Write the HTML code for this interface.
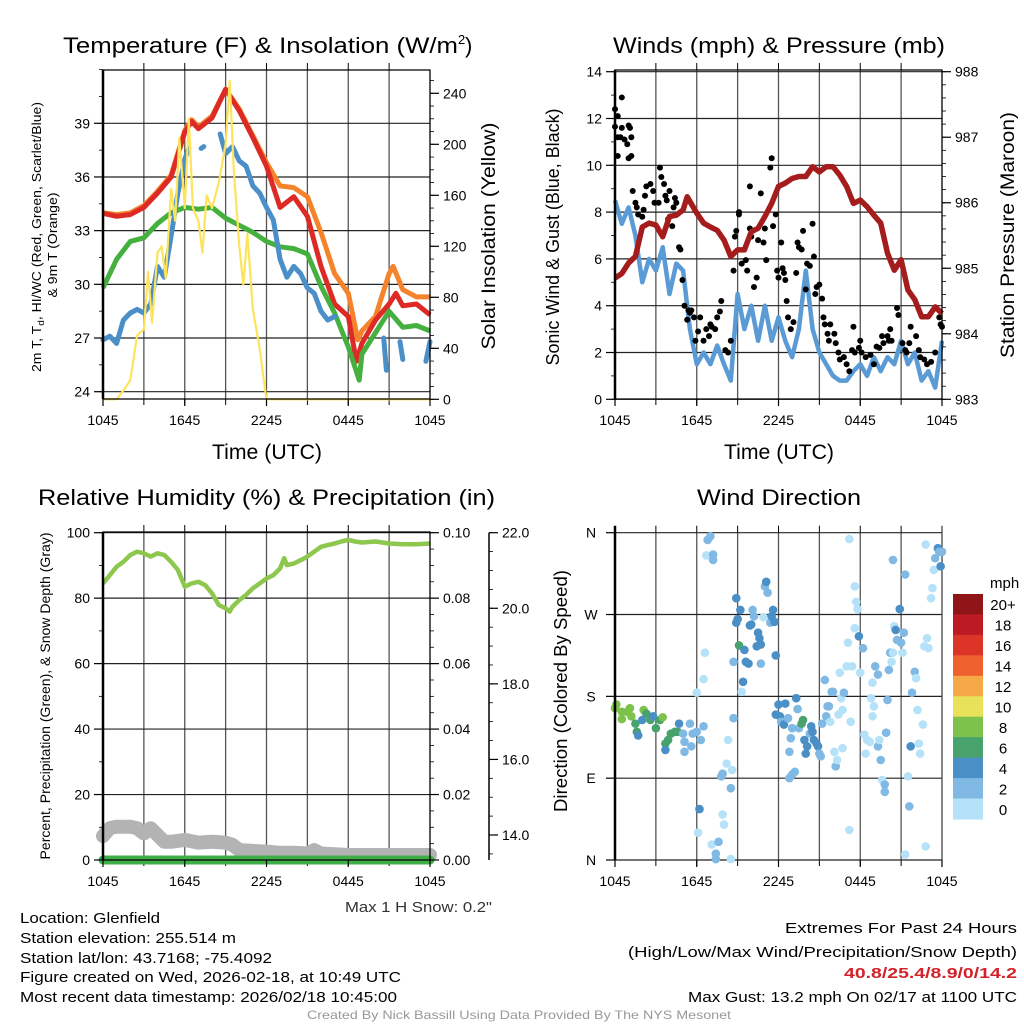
<!DOCTYPE html>
<html><head><meta charset="utf-8"><title>Mesonet Meteogram</title>
<style>
html,body{margin:0;padding:0;background:#fff;}
svg{display:block;font-family:"Liberation Sans",sans-serif;}
</style></head>
<body>
<svg id="fig" xmlns="http://www.w3.org/2000/svg" width="1024" height="1024" viewBox="0 0 1024 1024">
<rect x="0" y="0" width="1024" height="1024" fill="#fff"/>
<g id="p1"></g>
<g id="p2"></g>
<g id="p3"></g>
<g id="p4"></g>
<g id="txt">
<text x="63" y="53" font-size="22" textLength="395" lengthAdjust="spacingAndGlyphs">Temperature (F) &amp; Insolation (W/m</text>
<text x="458" y="44" font-size="13">2</text>
<text x="465" y="53" font-size="22">)</text>
<text x="613" y="53" font-size="22" textLength="332" lengthAdjust="spacingAndGlyphs">Winds (mph) &amp; Pressure (mb)</text>
<text x="38" y="505" font-size="22" textLength="457" lengthAdjust="spacingAndGlyphs">Relative Humidity (%) &amp; Precipitation (in)</text>
<text x="697" y="505" font-size="22" textLength="164" lengthAdjust="spacingAndGlyphs">Wind Direction</text>
<text x="345" y="912" font-size="15" fill="#333" textLength="147" lengthAdjust="spacingAndGlyphs">Max 1 H Snow: 0.2"</text>
<text x="20" y="923" font-size="15" textLength="140" lengthAdjust="spacingAndGlyphs">Location: Glenfield</text>
<text x="20" y="943" font-size="15" textLength="216" lengthAdjust="spacingAndGlyphs">Station elevation: 255.514 m</text>
<text x="20" y="963" font-size="15" textLength="252" lengthAdjust="spacingAndGlyphs">Station lat/lon: 43.7168; -75.4092</text>
<text x="20" y="982" font-size="15" textLength="381" lengthAdjust="spacingAndGlyphs">Figure created on Wed, 2026-02-18, at 10:49 UTC</text>
<text x="20" y="1002" font-size="15" textLength="377" lengthAdjust="spacingAndGlyphs">Most recent data timestamp: 2026/02/18 10:45:00</text>
<text x="785" y="933" font-size="15" textLength="232" lengthAdjust="spacingAndGlyphs">Extremes For Past 24 Hours</text>
<text x="628" y="957" font-size="15" textLength="389" lengthAdjust="spacingAndGlyphs">(High/Low/Max Wind/Precipitation/Snow Depth)</text>
<text x="844" y="978" font-size="15" font-weight="bold" fill="#d2232a" textLength="173" lengthAdjust="spacingAndGlyphs">40.8/25.4/8.9/0/14.2</text>
<text x="688" y="1002" font-size="15" textLength="329" lengthAdjust="spacingAndGlyphs">Max Gust: 13.2 mph On 02/17 at 1100 UTC</text>
<text x="307" y="1019" font-size="12" fill="#999" textLength="424" lengthAdjust="spacingAndGlyphs">Created By Nick Bassill Using Data Provided By The NYS Mesonet</text>
</g>
</svg>
<script>
// ---------- shared axis labels ----------
var timeTicks=[0,6,12,18,24];
var timeLabels=["1045","1645","2245","0445","1045"];
// ---------- panel 1 data ----------
var tempTicks=[24,27,30,33,36,39];
var insTicks=[0,40,80,120,160,200,240];
var hourT=[0,1,2,3,4,5,6,6.5,7,8,9,10,11,12,13,14,15,16,17,18,18.6,19,20,21,21.5,22,23,24];
var airT=[33.97,33.8,33.9,34.3,35.1,36.0,38.5,39.1,38.7,39.3,40.9,39.7,38.2,36.6,34.3,34.9,33.8,31.0,28.9,28.2,25.7,26.7,28.0,28.9,29.5,28.8,28.9,28.3];
var t9T=[0,1,2,3,4,5,6,6.5,7,8,9,10,11,12,13,14,15,16,17,18,18.7,19,20,21,21.3,22,23,24];
var t9m=[34.0,33.9,34.0,34.4,35.2,36.1,38.6,39.2,38.8,39.4,40.9,39.8,38.3,36.8,35.5,35.4,34.9,32.9,30.6,29.5,26.9,27.4,28.2,30.6,31.0,29.7,29.3,29.3];
var dewT=[0,1,2,3,4,5,6,7,8,9,10,11,12,13,14,15,16,17,18,18.8,19,20,21,22,23,24];
var dewV=[29.8,31.4,32.4,32.6,33.4,34.0,34.3,34.2,34.3,33.7,33.3,32.9,32.4,32.1,32.0,31.7,29.9,28.4,26.5,24.65,26.1,27.3,28.5,27.6,27.7,27.4];
var hiT=[0,0.5,1,1.5,2,2.5,3,3.5,4,4.5,5,5.5,6,6.3,null,7.2,7.4,null,8.6,9,9.5,10,10.5,11,11.5,12,12.5,13,13.5,14,14.5,15,15.5,16,16.5,17,null,20.6,20.8,null,21.8,22.0,null,23.7,24];
var hiV=[26.9,27.1,26.7,28.0,28.4,28.6,28.4,28.9,31.0,30.4,32.7,35.1,37.0,37.6,null,37.6,37.7,null,38.4,37.3,37.7,36.9,36.6,35.5,35.1,34.3,33.6,31.4,30.4,31.0,30.6,29.8,29.5,28.5,28.0,28.2,null,27.0,25.2,null,26.8,25.8,null,25.7,26.8];
var insT=[0,0.5,1,1.5,2,2.5,3,3.3,3.6,4,4.3,4.6,5,5.3,5.6,6,6.3,6.6,7,7.3,7.6,8,8.5,9,9.3,9.6,10,10.3,10.6,11,11.5,11.8,12,24];
var insV=[0,0,0,7,15,50,55,100,60,115,120,95,165,140,205,150,220,150,140,115,160,150,170,200,250,180,120,90,130,70,40,15,0,0];
// ---------- panel 2 data ----------
var windTicks=[0,2,4,6,8,10,12,14];
var presTicks=[983,984,985,986,987,988];
var sonicT=[0,0.5,1,1.5,2,2.5,3,3.5,4,4.5,5,5.5,6,6.5,7,7.5,8,8.5,9,9.5,10,10.5,11,11.5,12,12.5,13,13.5,14,14.5,15,15.5,16,16.5,17,17.5,18,18.5,19,19.5,20,20.5,21,21.5,22,22.5,23,23.5,24];
var sonicV=[8.5,7.5,8.2,7.0,5.0,6.0,5.5,6.5,4.5,5.8,5.5,3.0,1.5,2.0,1.5,2.3,1.5,0.8,4.5,3.0,4.0,2.5,4.0,2.5,3.5,2.5,1.8,3.0,5.5,3.0,2.0,1.5,1.0,0.8,0.8,1.2,1.5,1.0,1.8,1.2,1.8,1.5,2.5,1.5,2.0,0.8,1.2,0.5,2.5];
var gustT=[0,0,0.2,0.2,0.4,0.5,0.5,0.2,0.7,0.9,1.0,1.1,1.2,1.0,1.2,1.3,1.5,1.6,1.7,2.0,2.1,2.2,2.3,2.6,2.8,2.9,3.2,3.3,3.4,3.6,3.7,3.8,3.9,4.0,4.2,4.3,4.4,4.5,4.7,4.8,4.95,5.1,5.3,5.4,5.5,5.6,5.8,5.9,6.1,6.25,6.5,6.7,6.9,7.0,7.1,7.35,7.5,7.7,7.8,8.1,8.3,8.5,8.7,8.8,8.9,9.1,9.1,9.3,9.6,9.7,9.9,9.9,10.0,10.2,10.4,10.5,10.7,10.9,11.0,11.1,11.4,11.5,11.6,11.8,11.9,12.0,12.2,12.3,12.4,12.5,12.6,12.7,12.9,13.1,13.3,13.4,13.5,13.7,13.8,14.0,14.1,14.3,14.5,14.6,14.7,14.8,15.0,15.2,15.3,15.4,15.6,15.7,15.8,16.1,16.2,16.4,16.5,16.8,17.0,17.2,17.4,17.5,17.6,17.9,18.0,18.1,18.4,18.75,19.0,19.2,19.4,19.6,19.7,20.0,20.1,20.2,20.3,20.7,20.8,21.1,21.3,21.4,21.6,21.7,22.1,22.3,22.4,22.7,22.9,23.2,23.5,23.8,23.9,24.0];
var gustV=[11.65,12.4,12.1,11.2,11.2,11.6,12.9,10.4,11.1,10.9,11.7,11.6,11.2,10.3,10.4,8.9,8.4,8.2,7.9,7.8,8.1,8.7,9.1,9.2,8.9,8.4,8.4,9.9,9.5,9.2,8.7,8.5,7.7,8.9,7.4,8.2,8.6,8.4,6.5,6.4,5.1,4.0,3.4,3.8,3.7,3.8,3.5,2.5,2.9,3.5,2.5,3.0,2.7,3.2,3.1,3.0,3.5,3.75,4.2,2.1,2.0,2.5,5.5,6.95,7.2,7.9,8.0,5.8,5.95,5.5,9.1,7.3,6.95,4.8,5.2,6.8,8.8,6.7,7.3,5.95,9.9,10.3,7.4,7.9,5.5,5.2,6.7,5.6,5.4,5.1,4.2,3.5,3.0,3.3,5.4,6.7,6.5,6.4,7.2,4.7,5.8,5.7,7.5,6.1,4.5,4.8,4.9,4.3,3.5,3.2,2.8,2.5,3.2,2.8,2.4,2.0,1.7,1.8,1.5,1.2,2.1,3.1,2.0,2.2,2.5,2.0,1.8,1.9,1.5,2.25,2.2,2.7,2.4,2.7,2.5,3.0,2.5,3.9,3.6,2.4,2.1,2.0,2.4,3.1,2.7,2.1,1.8,1.7,1.5,1.6,2.0,3.5,3.2,3.1];
var presT=[0,0.5,1,1.5,2,2.5,3,3.5,4,4.5,5,5.3,6,6.5,7,7.5,8,8.5,9,9.5,10,10.5,11,11.5,12,12.5,13,13.5,14,14.5,15,15.5,16,16.5,17,17.5,18,18.5,19,19.5,20,20.5,21,21.5,22,22.5,23,23.5,24];
var presV=[984.85,984.92,985.08,985.18,985.63,985.69,985.66,985.48,985.79,985.81,985.89,986.09,985.84,985.69,985.63,985.58,985.43,985.18,985.28,985.28,985.56,985.61,985.79,985.99,986.25,986.30,986.37,986.40,986.40,986.55,986.47,986.55,986.55,986.42,986.25,985.99,986.04,985.94,985.81,985.69,985.23,984.97,985.13,984.67,984.52,984.26,984.26,984.41,984.31];
// ---------- panel 3 data ----------
var rhTicks=[0,20,40,60,80,100];
var precipTickLabels=["0.00","0.02","0.04","0.06","0.08","0.10"];
var snowTicks=[14,16,18,20,22];
var rhT=[0,0.5,1,1.5,2,2.5,3,3.5,4,4.5,5,5.5,6,6.5,7,7.5,8,8.5,9,9.3,9.5,10,10.5,11,11.5,12,12.5,13,13.3,13.5,14,14.5,15,15.5,16,16.5,17,17.5,18,18.5,19,20,21,22,23,24];
var rhV=[84.5,87,89.6,91.1,93.2,94.2,93.7,92.7,93.7,93.2,91.1,88.6,83.5,84.5,85,84,81.5,77.9,76.9,75.9,77.4,79.4,81,83,84.5,86,87,89.1,92.2,90.1,90.6,91.6,92.7,94.2,95.7,96.2,96.7,97.3,97.8,97.3,97,97.3,96.7,96.5,96.5,96.7];
var precipT=[0,24];
var precipV=[0,0];
var snowT=[0,0.5,1,2,2.5,3,3.5,4,4.5,5,6,7,8,9,9.5,10,11,12,13,14,15,15.5,16,17,18,24];
var snowV=[13.97,14.18,14.22,14.22,14.18,14.04,14.18,14.0,13.82,13.82,13.87,13.8,13.82,13.8,13.74,13.6,13.58,13.56,13.53,13.53,13.51,13.6,13.51,13.49,13.47,13.47];
// ---------- panel 4 data ----------
var dirLabels=["N","E","S","W","N"];
var dirTicks=[0,90,180,270,360];
var speedBins=["0","2","4","6","8","10","12","14","16","18","20+"];
var binColors=["#b5e2f8","#7fb9e4","#4a8fc6","#47a26c","#7dc24b","#e8e15a","#f6a947","#ef6230","#dc3527","#bd1b24","#8f1519"];
var windT=[0,0.1,0.5,0.5,0.9,1.1,1.2,1.5,1.6,1.7,2.0,2.1,2.3,2.6,2.8,3.0,3.3,3.5,3.7,3.7,3.9,4.1,4.4,4.6,4.7,5.0,5.1,5.1,5.5,5.6,5.7,6.0,6.3,6.5,
6.2,6.1,6.0,6.5,6.6,6.7,6.8,7.0,7.2,7.2,7.1,7.4,7.4,7.6,7.8,7.9,7.9,8.0,8.2,8.3,8.5,8.5,8.6,8.7,
8.7,8.9,8.9,9.0,9.1,9.2,9.3,9.4,9.5,9.6,9.8,9.9,10.0,10.1,10.2,10.4,10.5,10.6,10.7,10.7,10.9,11.0,11.1,11.2,11.4,11.5,11.6,11.7,11.8,
12.0,11.8,12.1,12.2,12.4,12.5,12.7,12.8,12.8,12.9,13.0,13.0,13.2,13.3,13.4,13.5,13.7,13.8,13.9,14.0,14.1,14.3,14.4,14.5,14.6,14.8,14.9,15.0,15.1,15.2,15.4,15.5,15.6,15.7,15.8,15.9,16.0,16.1,16.2,16.3,16.4,16.5,16.6,16.7,16.7,16.8,17.0,17.1,17.2,17.2,17.3,17.4,17.6,17.6,17.7,17.8,17.9,18.0,18.2,18.3,18.4,18.5,18.7,18.8,18.9,18.9,19.0,19.1,19.3,19.3,19.4,19.5,19.6,19.8,19.8,19.9,20.0,20.1,20.2,20.3,20.4,20.4,20.5,20.6,20.7,20.9,21.0,21.1,21.2,21.3,21.3,21.5,21.6,21.7,21.8,22.0,22.1,22.2,22.3,22.4,22.6,22.7,22.8,22.8,22.9,23.0,23.2,23.3,23.4,23.5,23.7,23.8,23.9,24.0];
var windD=[167,171,163,155,163,167,158,150,141,137,154,165,161,154,158,145,154,157,128,121,132,139,141,141,150,139,130,119,150,125,139,141,132,147,
56,30,184,199,228,335,352,356,330,336,17,7,1,20,92,95,50,39,106,132,1,79,99,156,
218,288,261,265,236,275,185,196,231,218,216,258,259,275,268,235,250,244,237,216,267,301,306,294,261,268,275,262,225,
171,160,158,152,149,172,156,90,119,134,145,94,97,178,166,145,150,154,132,117,125,139,147,141,132,128,125,117,114,150,198,158,169,169,152,185,185,119,103,110,160,206,178,165,123,184,213,239,33,353,152,213,255,301,284,276,246,206,233,138,117,132,130,178,195,158,169,213,204,125,132,110,88,83,75,140,176,209,228,218,228,330,257,253,242,276,239,228,250,314,6,92,59,125,184,207,200,165,128,117,149,235,15,347,244,233,288,299,319,332,343,339,323,339];
var windS=[8.5,8.5,8.5,8.5,8.5,8.5,8.5,6.5,6.5,4.5,4.5,8.5,6.5,6.5,4.5,6.5,6.5,8.5,6.5,4.5,6.5,6.5,6.5,6.5,4.5,2.5,2.5,2.5,2.5,2.5,2.5,2.5,2.5,2.5,
4.5,1,1,1,1,1,2.5,2.5,2.5,2.5,1,2.5,2.5,2.5,2.5,2.5,1,1,1,1,1,2.5,1,2.5,
2.5,4.5,4.5,4.5,6.5,4.5,1,4.5,4.5,4.5,4.5,4.5,4.5,2.5,2.5,4.5,4.5,4.5,4.5,2.5,1,2.5,4.5,2.5,2.5,4.5,4.5,4.5,4.5,
4.5,4.5,4.5,2.5,4.5,4.5,2.5,2.5,2.5,2.5,2.5,2.5,2.5,4.5,2.5,2.5,6.5,6.5,4.5,4.5,4.5,2.5,4.5,4.5,4.5,4.5,4.5,2.5,2.5,2.5,2.5,2.5,2.5,2.5,1,2.5,2.5,1,2.5,1,1,1,1,1,1,2.5,1,1,1,1,1,1,1,1,1,1,4.5,1,2.5,1,1,1,1,1,1,1,1,2.5,2.5,2.5,1,2.5,1,2.5,2.5,2.5,2.5,2.5,2.5,1,1,2.5,1,4.5,2.5,4.5,2.5,1,2.5,2.5,1,1,2.5,4.5,2.5,2.5,1,1,1,1,1,1,1,1,1,1,1,1,1,2.5,4.5,2.5,4.5,2.5];

// ---------- drawing helpers ----------
var NS="http://www.w3.org/2000/svg";
function mk(parent,tag,attrs){var e=document.createElementNS(NS,tag);for(var k in attrs){e.setAttribute(k,attrs[k]);}parent.appendChild(e);return e;}
function lin(d0,d1,r0,r1){return function(v){return r0+(v-d0)*(r1-r0)/(d1-d0);};}
function pathFrom(ts,vs,fx,fy){var d="",pen=false;for(var i=0;i<ts.length;i++){if(ts[i]===null||vs[i]===null){pen=false;continue;}d+=(pen?"L":"M")+fx(ts[i]).toFixed(1)+" "+fy(vs[i]).toFixed(1);pen=true;}return d;}
function frame(g,x0,x1,y0,y1,fx,gridY,fy){
  for(var h=3;h<24;h+=3){var gl=mk(g,"line",{x1:fx(h),x2:fx(h),y1:y0,y2:y1,stroke:"#555","stroke-width":1.3});
    
    
    var tb=mk(g,"line",{x1:fx(h),x2:fx(h),y1:y1,y2:y1+6,stroke:"#000","stroke-width":1});
    
    
    var tt=mk(g,"line",{x1:fx(h),x2:fx(h),y1:y0-7,y2:y0,stroke:"#000","stroke-width":1});
    
    }
  for(var i=0;i<gridY.length;i++){var hl=mk(g,"line",{x1:x0,x2:x1,y1:fy(gridY[i]),y2:fy(gridY[i]),stroke:"#222","stroke-width":1.2});
    
    }
}
function border(g,x0,x1,y0,y1){var r=mk(g,"path",{d:"M"+x0+" "+y0+"H"+x1+"V"+y1+"H"+x0+"Z",fill:"none",stroke:"#000","stroke-width":1.3});
  
  
  var l=mk(g,"line",{x1:x0,x2:x0,y1:y0,y2:y1,stroke:"#000","stroke-width":2.5});
  
  }
function xLabels(g,fx,y1){for(var i=0;i<timeTicks.length;i++){var t=mk(g,"text",{x:fx(timeTicks[i]),y:y1+26,"font-size":14,"text-anchor":"middle"});t.textContent=timeLabels[i];
  
  
  var tk=mk(g,"line",{x1:fx(timeTicks[i]),x2:fx(timeTicks[i]),y1:y1,y2:y1+7,stroke:"#000","stroke-width":1.2});
  
  }}
function yAxis(g,x,ticks,labels,fy,side,minorStep,lo,hi){
  var dir=side==="left"?-1:1;
  for(var v=lo;v<=hi+1e-9;v+=minorStep){var m=mk(g,"line",{x1:x,x2:x+dir*4,y1:fy(v),y2:fy(v),stroke:"#000","stroke-width":0.8});
    
    }
  for(var i=0;i<ticks.length;i++){var y=fy(ticks[i]);
    var tk=mk(g,"line",{x1:x,x2:x+dir*9,y1:y,y2:y,stroke:"#000","stroke-width":1.2});
    
    
    var t=mk(g,"text",{x:x+dir*13,y:y+5,"font-size":14,"text-anchor":side==="left"?"end":"start"});t.textContent=labels[i];
    
    }
}
function vtitle(g,x,yc,txt,size,len,name){var t=mk(g,"text",{x:0,y:0,"font-size":size,"text-anchor":"middle",transform:"translate("+x+","+yc+") rotate(-90)",textLength:len,lengthAdjust:"spacingAndGlyphs"});t.textContent=txt;
  
  return t;}
function htitle(g,x,y,txt){var t=mk(g,"text",{x:x,y:y,"font-size":21,"text-anchor":"middle",textLength:110,lengthAdjust:"spacingAndGlyphs"});t.textContent=txt;
  
  }

// ---------- panel 1 ----------
(function(){
  var g=document.getElementById("p1");var x0=103,x1=430,y0=70,y1=399;
  var fx=lin(0,24,x0,x1), fy=lin(24,39,391.7,123.3), fi=lin(0,240,399.3,93.3);
  frame(g,x0,x1,y0,y1,fx,tempTicks,fy);
  var s;
  s=mk(g,"path",{d:pathFrom(t9T,t9m,fx,fy),fill:"none",stroke:"#f5832b","stroke-width":5,"stroke-linejoin":"round"});
  
  
  s=mk(g,"path",{d:pathFrom(hourT,airT,fx,fy),fill:"none",stroke:"#dd2a25","stroke-width":5,"stroke-linejoin":"round"});
  
  
  s=mk(g,"path",{d:pathFrom(dewT,dewV,fx,fy),fill:"none",stroke:"#45b040","stroke-width":5,"stroke-linejoin":"round"});
  
  
  s=mk(g,"path",{d:pathFrom(hiT,hiV,fx,fy),fill:"none",stroke:"#4a8fc8","stroke-width":5,"stroke-linejoin":"round","stroke-linecap":"round"});
  
  
  s=mk(g,"path",{d:pathFrom(insT,insV,fx,fi),fill:"none",stroke:"#fde45c","stroke-width":2.2,"stroke-linejoin":"round"});
  
  
  border(g,x0,x1,y0,y1);
  yAxis(g,x0,tempTicks,tempTicks.map(String),fy,"left",1.5,24,42);
  yAxis(g,x1,insTicks,insTicks.map(String),fi,"right",10,0,250);
  xLabels(g,fx,y1);
  htitle(g,267,459,"Time (UTC)");
  vtitle(g,495,236,"Solar Insolation (Yellow)",19,227,"right-axis-title");
  var t=vtitle(g,41,237,"",12.5,270,"left-axis-title");
  t.innerHTML='2m T, T<tspan font-size="9" dy="3">d</tspan><tspan dy="-3">, HI/WC (Red, Green, Scarlet/Blue)</tspan>';
  vtitle(g,57,245,"& 9m T (Orange)",12.5,105,"left-axis-title-line2");
})();

// ---------- panel 2 ----------
(function(){
  var g=document.getElementById("p2");var x0=615,x1=942,y0=70,y1=399;
  var fx=lin(0,24,x0,x1), fy=lin(0,14,399.3,71.7), fp=lin(983,988,399.3,71.7);
  frame(g,x0,x1,y0,y1,fx,windTicks,fy);
  var s=mk(g,"path",{d:pathFrom(sonicT,sonicV,fx,fy),fill:"none",stroke:"#5a9bd5","stroke-width":4.5,"stroke-linejoin":"round"});
  
  
  for(var i=0;i<gustT.length;i++){var c=mk(g,"circle",{cx:fx(gustT[i]),cy:fy(gustV[i]),r:3,fill:"#000"});
    
    }
  s=mk(g,"path",{d:pathFrom(presT,presV,fx,fp),fill:"none",stroke:"#a51c1c","stroke-width":5.5,"stroke-linejoin":"round"});
  
  
  border(g,x0,x1,y0,y1);
  yAxis(g,x0,windTicks,windTicks.map(String),fy,"left",1,0,14);
  yAxis(g,x1,presTicks,presTicks.map(String),fp,"right",0.2,983,988);
  xLabels(g,fx,y1);
  htitle(g,779,459,"Time (UTC)");
  vtitle(g,559,237,"Sonic Wind & Gust (Blue, Black)",18,257,"left-axis-title");
  vtitle(g,1014,235,"Station Pressure (Maroon)",19,246,"right-axis-title");
})();

// ---------- panel 3 ----------
(function(){
  var g=document.getElementById("p3");var x0=103,x1=430,y0=532,y1=860;
  var fx=lin(0,24,x0,x1), fy=lin(0,100,860,532.7), fpr=lin(0,0.1,860,532.7), fs=lin(14,22,835,532.7);
  frame(g,x0,x1,y0,y1,fx,rhTicks,fy);
  var s=mk(g,"path",{d:pathFrom(snowT,snowV,fx,fs),fill:"none",stroke:"#b3b3b3","stroke-width":14,"stroke-linejoin":"round","stroke-linecap":"round"});
  
  
  s=mk(g,"path",{d:pathFrom(rhT,rhV,fx,fy),fill:"none",stroke:"#8dc74e","stroke-width":4.5,"stroke-linejoin":"round"});
  
  
  s=mk(g,"path",{d:pathFrom(precipT,precipV,fx,fpr),fill:"none",stroke:"#3fae49","stroke-width":9,"stroke-linecap":"round"});
  
  
  border(g,x0,x1,y0,y1);
  yAxis(g,x0,rhTicks,rhTicks.map(String),fy,"left",10,0,100);
  yAxis(g,x1,[0,0.02,0.04,0.06,0.08,0.1],precipTickLabels,fpr,"right",0.005,0,0.1);
  var ax=mk(g,"line",{x1:489,x2:489,y1:532.7,y2:860,stroke:"#000","stroke-width":1.5});
  
  
  yAxis(g,489,snowTicks,snowTicks.map(function(v){return v.toFixed(1);}),fs,"right",0.5,13.5,22);
  xLabels(g,fx,y1);
  vtitle(g,50,696,"Percent, Precipitation (Green), & Snow Depth (Gray)",14,327,"left-axis-title");
})();

// ---------- panel 4 ----------
(function(){
  var g=document.getElementById("p4");var x0=615,x1=942,y0=532.7,y1=860;
  var fx=lin(0,24,x0,x1), fy=lin(0,360,860,532.7);
  frame(g,x0,x1,y0,y1,fx,dirTicks,fy);
  var rl=mk(g,"line",{x1:x1,x2:x1,y1:y0-7,y2:y1,stroke:"#444","stroke-width":1.3});
  
  
  for(var i=0;i<windT.length;i++){var b=Math.min(10,Math.floor(windS[i]/2));
    var c=mk(g,"circle",{cx:fx(windT[i]),cy:fy(windD[i]),r:4.3,fill:binColors[b]});
    
    }
  var l=mk(g,"line",{x1:x0,x2:x0,y1:y0-7,y2:y1,stroke:"#000","stroke-width":2.5});
  
  
  for(var k=0;k<dirTicks.length;k++){var y=fy(dirTicks[k]);
    var tk=mk(g,"line",{x1:x0-9,x2:x0,y1:y,y2:y,stroke:"#000","stroke-width":1.2});
    
    
    var t=mk(g,"text",{x:591,y:y+5,"font-size":14,"text-anchor":"middle"});t.textContent=dirLabels[k];
    
    }
  xLabels(g,fx,y1);
  vtitle(g,567,691,"Direction (Colored By Speed)",18,242,"left-axis-title");
  var cb=mk(g,"g",{});
  
  
  var h=225/11;
  for(var j=0;j<11;j++){var idx=10-j;
    var r=mk(cb,"rect",{x:953,y:594+j*h,width:30,height:h+0.5,fill:binColors[idx]});
    
    
    var t2=mk(cb,"text",{x:1003,y:594+j*h+h/2+6,"font-size":15,"text-anchor":"middle"});t2.textContent=speedBins[idx];
    
    }
  var u=mk(cb,"text",{x:990,y:588,"font-size":15});u.textContent="mph";
  
  
})();
</script>
</body></html>
